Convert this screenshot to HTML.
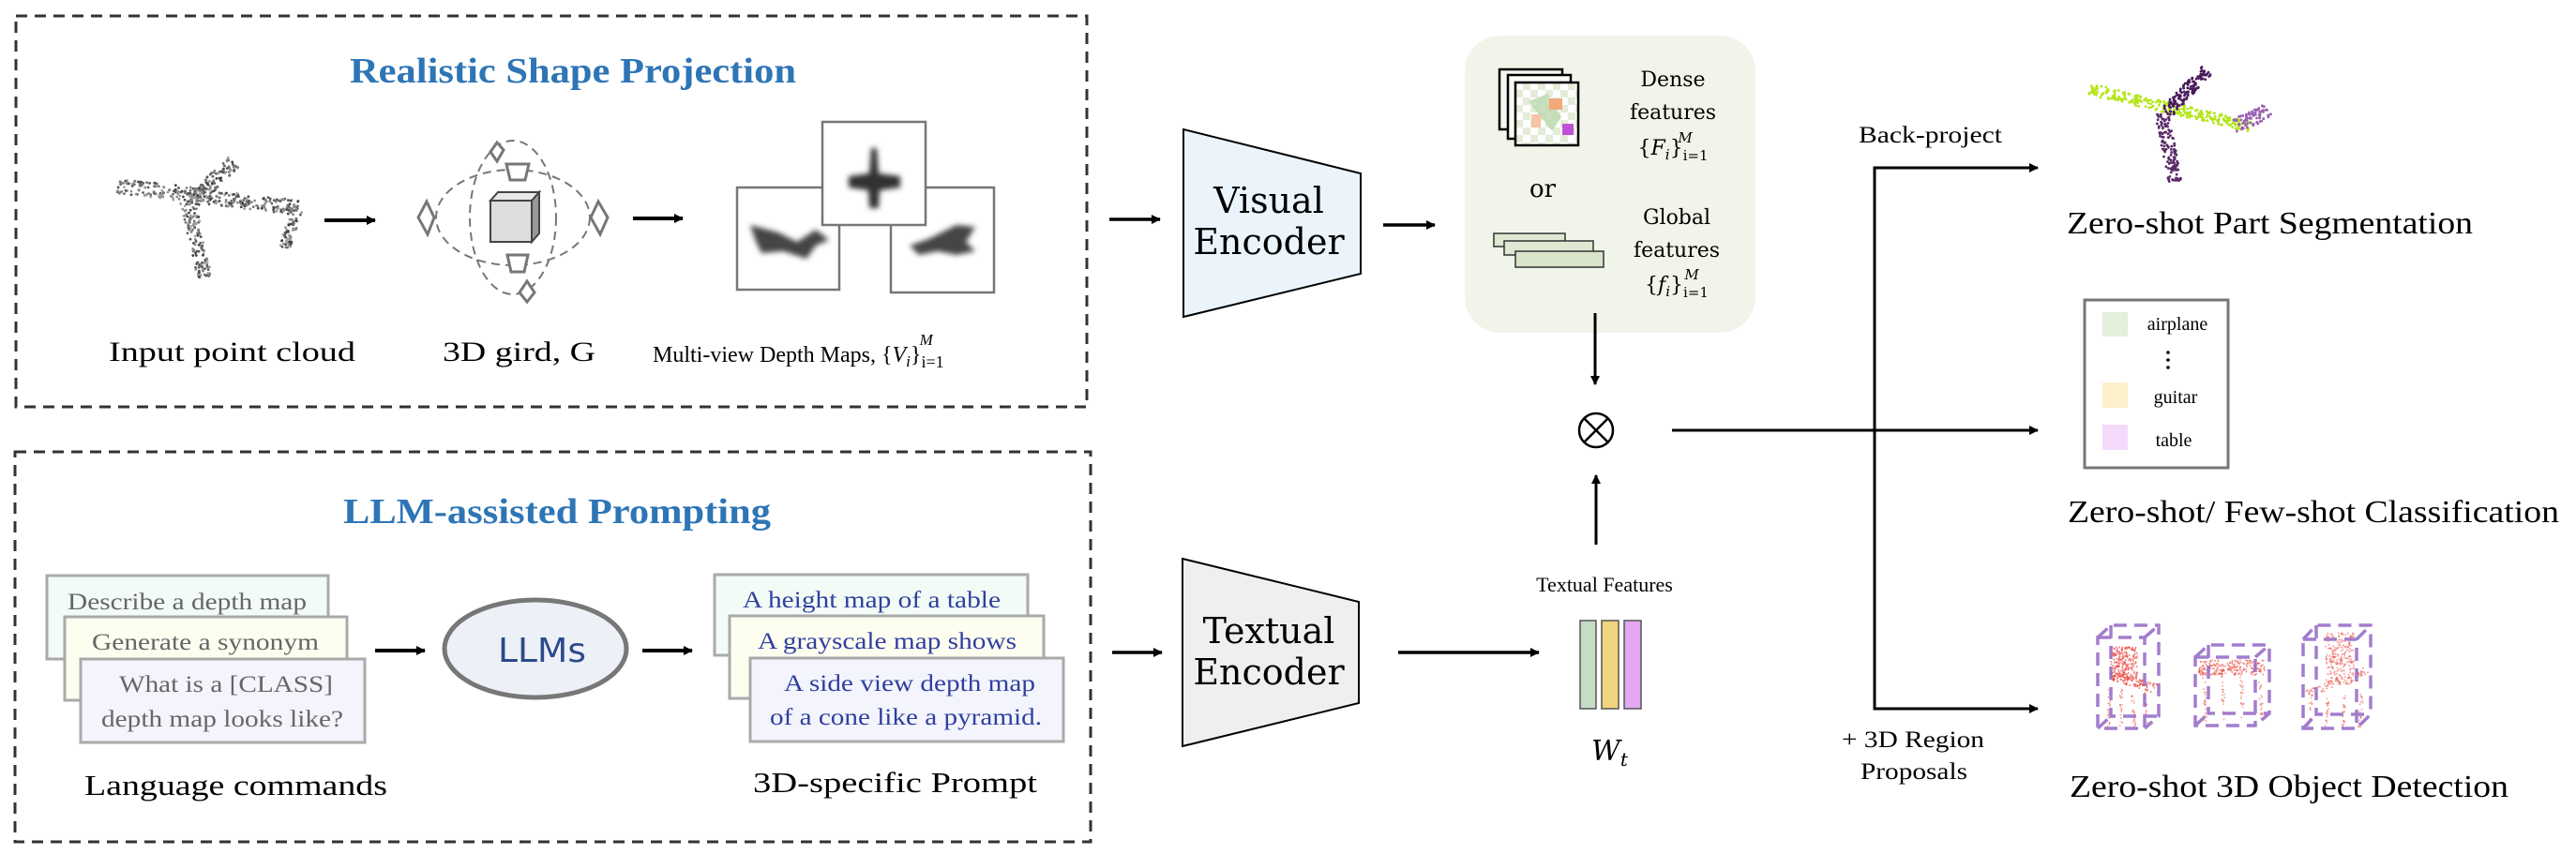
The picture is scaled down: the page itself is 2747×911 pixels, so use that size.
<!DOCTYPE html>
<html><head><meta charset="utf-8"><style>
html,body{margin:0;padding:0;background:#fff;}
svg{display:block;}
.ser{font-family:"Liberation Serif","Times New Roman",serif;}
.dv{font-family:"DejaVu Serif","Liberation Serif",serif;}
</style></head><body>
<svg id="s" width="2747" height="911" viewBox="0 0 2747 911" xmlns="http://www.w3.org/2000/svg">
<defs>
<marker id="ah" markerWidth="10" markerHeight="10" refX="9" refY="5" orient="auto" markerUnits="userSpaceOnUse" viewBox="0 0 10 10"><path d="M0,0 L10,5 L0,10 z" fill="#000"/></marker>
<filter id="bl"><feGaussianBlur stdDeviation="3"/></filter>
<pattern id="chk" width="16" height="16" patternUnits="userSpaceOnUse"><rect width="16" height="16" fill="#fff"/><rect width="8" height="8" fill="#e4ecd8"/><rect x="8" y="8" width="8" height="8" fill="#e4ecd8"/></pattern>
</defs>

<rect x="17" y="17" width="1142" height="417" fill="none" stroke="#333" stroke-width="3" stroke-dasharray="12,8"/>
<rect x="16" y="482" width="1147" height="416" fill="none" stroke="#333" stroke-width="3" stroke-dasharray="12,8"/>

<text x="611" y="88" text-anchor="middle" class="ser" font-size="38" font-weight="bold" fill="#2e75b6" textLength="476" lengthAdjust="spacingAndGlyphs">Realistic Shape Projection</text>
<text x="594" y="558" text-anchor="middle" class="ser" font-size="38" font-weight="bold" fill="#2e75b6" textLength="456" lengthAdjust="spacingAndGlyphs">LLM-assisted Prompting</text>

<g id="pc1" fill="#555"></g>

<line x1="346" y1="235" x2="400" y2="235" stroke="#000" stroke-width="4" marker-end="url(#ah)"/>
<line x1="675" y1="233" x2="728" y2="233" stroke="#000" stroke-width="4" marker-end="url(#ah)"/>

<g fill="none" stroke="#777" stroke-width="2" stroke-dasharray="9,6">
<ellipse cx="547" cy="232" rx="82" ry="51"/>
<ellipse cx="547" cy="232" rx="46" ry="82"/>
</g>
<g fill="#fff" stroke="#777" stroke-width="3">
<path d="M530,152 L537,160 L530,172 L523,162 z"/>
<path d="M540,175 L564,175 L560,192 L544,192 z"/>
<path d="M455,215 L463,232 L456,250 L446,232 z"/>
<path d="M638,215 L648,232 L640,250 L630,232 z"/>
<path d="M541,272 L563,272 L559,290 L545,290 z"/>
<path d="M562,300 L570,312 L562,322 L554,312 z"/>
</g>
<path d="M523,214 L567,214 L575,205 L531,205 z" fill="#e8e8e8" stroke="#444" stroke-width="2"/>
<rect x="523" y="214" width="44" height="44" fill="#ddd" stroke="#444" stroke-width="2"/>
<path d="M567,214 L575,205 L575,249 L567,258 z" fill="#999" stroke="#444" stroke-width="2"/>

<rect x="786" y="200" width="109" height="109" fill="#fff" stroke="#777" stroke-width="2.5"/>
<rect x="950" y="200" width="110" height="112" fill="#fff" stroke="#777" stroke-width="2.5"/>
<rect x="877" y="130" width="110" height="110" fill="#fff" stroke="#777" stroke-width="2.5"/>
<g filter="url(#bl)">
<path d="M800,240 L830,248 L850,258 L870,245 L884,256 L870,262 L860,276 L835,268 L812,270 L805,255 z" fill="#444"/>
<path d="M970,262 L990,255 L1020,240 L1040,242 L1030,258 L1040,268 L1020,272 L1000,268 L980,272 z" fill="#444"/>
<path d="M929,158 L935,158 L937,185 L960,188 L960,200 L938,203 L937,222 L927,222 L926,203 L905,200 L905,188 L927,185 z" fill="#333"/>
</g>

<text x="116" y="385" class="ser" font-size="30" textLength="263" lengthAdjust="spacingAndGlyphs">Input point cloud</text>
<text x="472" y="385" class="ser" font-size="30" textLength="163" lengthAdjust="spacingAndGlyphs">3D gird, G</text>
<text x="696" y="386" class="ser" font-size="24">Multi-view Depth Maps, {<tspan font-style="italic">V</tspan><tspan font-style="italic" font-size="17" dy="5">i</tspan><tspan dy="-5">}</tspan><tspan font-size="18" dy="6">i=1</tspan><tspan font-size="17" font-style="italic" dx="-26" dy="-24">M</tspan></text>

<g stroke="#aaa" stroke-width="3">
<rect x="50" y="614" width="300" height="89" fill="#f2fbf6"/>
<rect x="69" y="658" width="301" height="89" fill="#fdfdf0"/>
<rect x="86" y="703" width="303" height="89" fill="#f3f4fc"/>
</g>
<g class="ser" fill="#666" font-size="25">
<text x="72" y="650" textLength="255" lengthAdjust="spacingAndGlyphs">Describe a depth map</text>
<text x="98" y="693" textLength="242" lengthAdjust="spacingAndGlyphs">Generate a synonym</text>
<text x="127" y="738" textLength="228" lengthAdjust="spacingAndGlyphs">What is a [CLASS]</text>
<text x="108" y="775" textLength="258" lengthAdjust="spacingAndGlyphs">depth map looks like?</text>
</g>
<line x1="400" y1="694" x2="453" y2="694" stroke="#000" stroke-width="4" marker-end="url(#ah)"/>
<ellipse cx="571" cy="692" rx="97" ry="52" fill="#eef0f8" stroke="#777" stroke-width="5"/>
<text x="578" y="706" text-anchor="middle" font-family="'DejaVu Sans',sans-serif" font-size="36" fill="#2a4a8a" textLength="94" lengthAdjust="spacingAndGlyphs">LLMs</text>
<line x1="685" y1="694" x2="738" y2="694" stroke="#000" stroke-width="4" marker-end="url(#ah)"/>
<g stroke="#aaa" stroke-width="3">
<rect x="762" y="613" width="334" height="86" fill="#f2fbf6"/>
<rect x="778" y="657" width="335" height="88" fill="#fdfdf0"/>
<rect x="800" y="702" width="334" height="89" fill="#f3f4fc"/>
</g>
<g class="ser" fill="#2f3f9f" font-size="25">
<text x="792" y="648" textLength="275" lengthAdjust="spacingAndGlyphs">A height map of a table</text>
<text x="808" y="692" textLength="276" lengthAdjust="spacingAndGlyphs">A grayscale map shows</text>
<text x="836" y="737" textLength="268" lengthAdjust="spacingAndGlyphs">A side view depth map</text>
<text x="821" y="773" textLength="290" lengthAdjust="spacingAndGlyphs">of a cone like a pyramid.</text>
</g>
<text x="90" y="848" class="ser" font-size="31" textLength="323" lengthAdjust="spacingAndGlyphs">Language commands</text>
<text x="803" y="845" class="ser" font-size="31" textLength="303" lengthAdjust="spacingAndGlyphs">3D-specific Prompt</text>

<line x1="1183" y1="234" x2="1237" y2="234" stroke="#000" stroke-width="3.5" marker-end="url(#ah)"/>
<path d="M1262,138 L1451,185 L1451,292 L1262,338 z" fill="#ebf4fb" stroke="#000" stroke-width="2"/>
<text x="1353" y="227" text-anchor="middle" class="dv" font-size="38">Visual</text>
<text x="1353" y="271" text-anchor="middle" class="dv" font-size="38">Encoder</text>
<line x1="1475" y1="240" x2="1530" y2="240" stroke="#000" stroke-width="3.5" marker-end="url(#ah)"/>

<line x1="1186" y1="696" x2="1239" y2="696" stroke="#000" stroke-width="3.5" marker-end="url(#ah)"/>
<path d="M1261,596 L1449,642 L1449,750 L1261,796 z" fill="#efefef" stroke="#000" stroke-width="2"/>
<text x="1353" y="686" text-anchor="middle" class="dv" font-size="38">Textual</text>
<text x="1353" y="730" text-anchor="middle" class="dv" font-size="38">Encoder</text>
<line x1="1491" y1="696" x2="1641" y2="696" stroke="#000" stroke-width="3.5" marker-end="url(#ah)"/>

<rect x="1562" y="38" width="310" height="317" rx="38" fill="#f1f5e9"/>
<rect x="1599" y="74" width="67" height="64" fill="#f5f7f0" stroke="#000" stroke-width="2.5"/>
<rect x="1608" y="80" width="67" height="68" fill="#f7f9f2" stroke="#000" stroke-width="2.5"/>
<rect x="1616" y="88" width="67" height="67" fill="url(#chk)" stroke="#000" stroke-width="2.5"/>
<path d="M1630,108 L1650,100 L1665,125 L1655,140 Z" fill="#bcd8b0" opacity=".8"/>
<rect x="1652" y="105" width="14" height="12" fill="#f2a878"/>
<rect x="1633" y="122" width="10" height="14" fill="#f6c3a5"/>
<rect x="1666" y="132" width="12" height="12" fill="#c050d8"/>
<rect x="1593" y="249" width="76" height="14" fill="#dfe8d2" stroke="#333" stroke-width="1.5"/>
<rect x="1604" y="257" width="95" height="15" fill="#dfe8d2" stroke="#333" stroke-width="1.5"/>
<rect x="1616" y="268" width="94" height="17" fill="#d8e4ca" stroke="#333" stroke-width="1.5"/>
<g class="dv" font-size="22" text-anchor="middle">
<text x="1784" y="92">Dense</text>
<text x="1784" y="127">features</text>
<text x="1784" y="165">{<tspan font-style="italic">F</tspan><tspan font-style="italic" font-size="15" dy="5">i</tspan><tspan dy="-5">}</tspan><tspan font-size="15" dy="6">i=1</tspan></text>
<text x="1797" y="152" font-size="15" font-style="italic">M</text>
<text x="1645" y="210" font-size="26">or</text>
<text x="1788" y="239">Global</text>
<text x="1788" y="274">features</text>
<text x="1788" y="311">{<tspan font-style="italic">f</tspan><tspan font-style="italic" font-size="15" dy="5">i</tspan><tspan dy="-5">}</tspan><tspan font-size="15" dy="6">i=1</tspan></text>
<text x="1804" y="298" font-size="15" font-style="italic">M</text>
</g>
<line x1="1701" y1="334" x2="1701" y2="410" stroke="#000" stroke-width="3" marker-end="url(#ah)"/>
<circle cx="1702" cy="459" r="18" fill="none" stroke="#000" stroke-width="2.5"/>
<line x1="1689" y1="446" x2="1715" y2="472" stroke="#000" stroke-width="2.5"/>
<line x1="1715" y1="446" x2="1689" y2="472" stroke="#000" stroke-width="2.5"/>
<line x1="1702" y1="581" x2="1702" y2="507" stroke="#000" stroke-width="3" marker-end="url(#ah)"/>
<text x="1711" y="631" text-anchor="middle" class="ser" font-size="22">Textual Features</text>
<rect x="1685" y="662" width="17" height="94" fill="#c5dcc5" stroke="#555" stroke-width="1.5"/>
<rect x="1708" y="662" width="18" height="94" fill="#f0d47e" stroke="#555" stroke-width="1.5"/>
<rect x="1732" y="662" width="18" height="94" fill="#e2a8f2" stroke="#555" stroke-width="1.5"/>
<text x="1697" y="811" class="dv" font-size="30" font-style="italic">W<tspan font-size="20" dy="6">t</tspan></text>

<line x1="1783" y1="459" x2="2173" y2="459" stroke="#000" stroke-width="3" marker-end="url(#ah)"/>
<polyline points="2173,179 1999,179 1999,756 2173,756" fill="none" stroke="#000" stroke-width="3"/>
<line x1="2160" y1="179" x2="2173" y2="179" stroke="#000" stroke-width="3" marker-end="url(#ah)"/>
<line x1="2160" y1="756" x2="2173" y2="756" stroke="#000" stroke-width="3" marker-end="url(#ah)"/>
<text x="1982" y="152" class="ser" font-size="25" textLength="153" lengthAdjust="spacingAndGlyphs">Back-project</text>
<text x="1964" y="797" class="ser" font-size="25" textLength="152" lengthAdjust="spacingAndGlyphs">+ 3D Region</text>
<text x="1984" y="831" class="ser" font-size="25" textLength="114" lengthAdjust="spacingAndGlyphs">Proposals</text>

<g id="pc2"></g>
<text x="2204" y="249" class="ser" font-size="34" textLength="433" lengthAdjust="spacingAndGlyphs">Zero-shot Part Segmentation</text>
<rect x="2223" y="320" width="153" height="179" fill="#fff" stroke="#777" stroke-width="3"/>
<rect x="2242" y="333" width="27" height="26" fill="#e2f0dc"/>
<rect x="2242" y="408" width="27" height="27" fill="#fdf1cc"/>
<rect x="2242" y="453" width="27" height="27" fill="#f3dafa"/>
<g class="ser" font-size="20" text-anchor="middle">
<text x="2322" y="352">airplane</text>
<text x="2320" y="430">guitar</text>
<text x="2318" y="476">table</text>
</g>
<circle cx="2312" cy="376" r="1.8"/><circle cx="2312" cy="384" r="1.8"/><circle cx="2312" cy="392" r="1.8"/>
<text x="2205" y="557" class="ser" font-size="34" textLength="524" lengthAdjust="spacingAndGlyphs">Zero-shot/ Few-shot Classification</text>
<g id="pc3"></g>
<g fill="none" stroke="#9a70c8" stroke-width="3.5" stroke-dasharray="14,8" opacity=".9">
<rect x="2237" y="680" width="50" height="97"/><path d="M2237,680 L2251,667 L2302,667 L2302,764 L2287,777 M2287,680 L2302,667 M2251,667 L2251,764 L2302,764 M2237,777 L2251,764"/>
<rect x="2341" y="701" width="64" height="73"/><path d="M2341,701 L2355,688 L2420,688 L2420,761 L2405,774 M2405,701 L2420,688 M2355,688 L2355,761 L2420,761 M2341,774 L2355,761"/>
<rect x="2456" y="682" width="57" height="95"/><path d="M2456,682 L2470,667 L2528,667 L2528,762 L2513,777 M2513,682 L2528,667 M2470,667 L2470,762 L2528,762 M2456,777 L2470,762"/>
</g>
<text x="2207" y="850" class="ser" font-size="34" textLength="468" lengthAdjust="spacingAndGlyphs">Zero-shot 3D Object Detection</text>
</svg>
<script>
(function(){
var NS="http://www.w3.org/2000/svg";
var seed=7;function r(){seed=(seed*16807)%2147483647;return seed/2147483647;}
function seg(g,x1,y1,x2,y2,w,n,col,rad,op){for(var i=0;i<n;i++){var t=r();var c=document.createElementNS(NS,"circle");var px=x1+(x2-x1)*t,py=y1+(y2-y1)*t;var dx=-(y2-y1),dy=(x2-x1);var L=Math.sqrt(dx*dx+dy*dy);var o=(r()-.5)*w;c.setAttribute("cx",px+dx/L*o);c.setAttribute("cy",py+dy/L*o);c.setAttribute("r",rad);c.setAttribute("fill",typeof col=="function"?col():col);if(op)c.setAttribute("opacity",op);g.appendChild(c);}}
var g1=document.getElementById("pc1");
function gr(){var v=60+Math.floor(r()*110);return "rgb("+v+","+v+","+v+")";}
seg(g1,126,198,318,222,16,280,gr,1.4);
seg(g1,249,173,205,215,16,130,gr,1.4);
seg(g1,200,215,218,296,16,140,gr,1.4);
seg(g1,318,220,303,265,12,70,gr,1.4);
var g2=document.getElementById("pc2");
seg(g2,2228,95,2400,135,12,280,"#b5e61d",1.4);
seg(g2,2353,75,2310,120,14,130,"#4a1a5a",1.4);
seg(g2,2305,120,2320,195,14,130,"#5a2a6a",1.4);
seg(g2,2383,135,2420,118,16,80,"#9a60b0",1.4);
var g3=document.getElementById("pc3");
function red(){return "#e83a30";}
seg(g3,2265,690,2265,725,28,220,red,1,.6);
seg(g3,2250,720,2300,735,10,90,red,1,.6);
for(var k=0;k<4;k++)seg(g3,2250+k*12,735,2248+k*14,775,3,20,red,.9,.5);
seg(g3,2345,712,2415,712,16,220,red,1,.5);
for(k=0;k<4;k++)seg(g3,2350+k*20,720,2352+k*20,770,3,20,red,.9,.5);
seg(g3,2495,675,2495,730,30,220,red,1,.45);
seg(g3,2460,740,2525,715,8,60,red,1,.5);
for(k=0;k<4;k++)seg(g3,2465+k*18,740,2462+k*18,778,3,20,red,.9,.5);
})();
</script>
</body></html>
